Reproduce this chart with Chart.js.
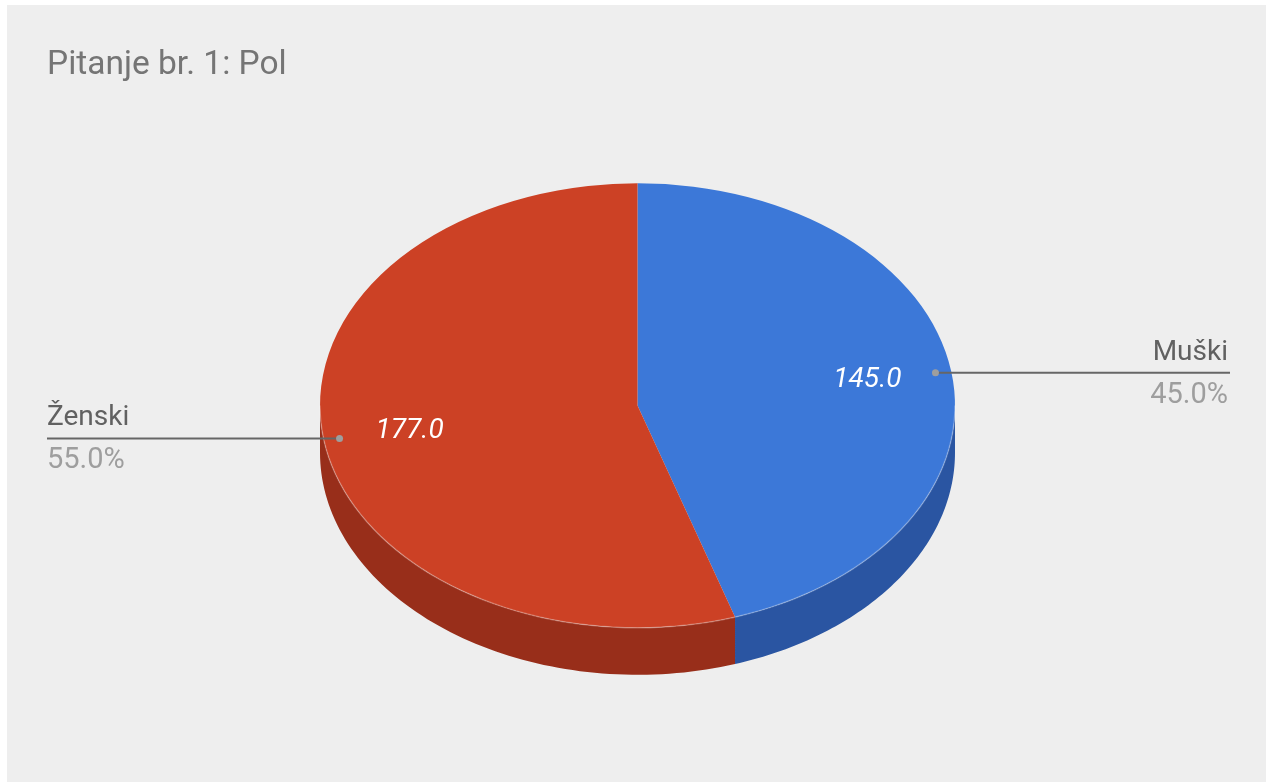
<!DOCTYPE html>
<html>
<head>
<meta charset="utf-8">
<title>Pitanje br. 1: Pol</title>
<script src="https://cdn.jsdelivr.net/npm/chart.js@4/dist/chart.umd.min.js"></script>
<style>
  html, body { margin: 0; background: #fff; }
  #panel { position: absolute; left: 7px; top: 5px; width: 1259px; height: 777px; background: #eeeeee; }
</style>
</head>
<body>
<div id="panel"><canvas id="chart"></canvas></div>
<script>
const categories = ["Muški", "Ženski"];
const counts = [145, 177];
const topColors = ["#3c78d8", "#cc4125"];
const sideColors = ["#2a55a2", "#982e1a"];

// vertical squash of the pie and thickness of its rim
const TILT = 0.7;
const DEPTH = 47;

function rimPath(ctx, cx, cy, r, a1, a2, drop) {
    const steps = 80;
    for (let s = 0; s <= steps; s++) {
        const a = a1 + (a2 - a1) * s / steps;
        ctx.lineTo(cx + r * Math.cos(a), cy + drop + r * TILT * Math.sin(a));
    }
}

const pie3d = {
    id: "pie3d",
    beforeDatasetsDraw(chart) {
        const ctx = chart.ctx;
        const arcs = chart.getDatasetMeta(0).data;
        const cx = arcs[0].x, cy = arcs[0].y, r = arcs[0].outerRadius;

        // side walls, only the front half of the rim is visible
        arcs.forEach((arc, i) => {
            const a1 = Math.max(arc.startAngle, 0);
            const a2 = Math.min(arc.endAngle, Math.PI);
            if (a2 <= a1) return;
            ctx.beginPath();
            rimPath(ctx, cx, cy, r, a1, a2, 0);
            const steps = 80;
            for (let s = steps; s >= 0; s--) {
                const a = a1 + (a2 - a1) * s / steps;
                ctx.lineTo(cx + r * Math.cos(a), cy + DEPTH + r * TILT * Math.sin(a));
            }
            ctx.closePath();
            ctx.fillStyle = sideColors[i];
            ctx.fill();
        });

        // squash the top face into an ellipse
        ctx.save();
        ctx.translate(cx, cy);
        ctx.scale(1, TILT);
        ctx.translate(-cx, -cy);
    },
    afterDatasetsDraw(chart) {
        const ctx = chart.ctx;
        ctx.restore();
        const arc = chart.getDatasetMeta(0).data[0];
        // faint highlight where the top meets the rim
        ctx.save();
        ctx.beginPath();
        rimPath(ctx, arc.x, arc.y, arc.outerRadius, 0, Math.PI, 0);
        ctx.strokeStyle = "rgba(255,255,255,0.25)";
        ctx.lineWidth = 1.5;
        ctx.stroke();
        ctx.restore();
    }
};

const sliceLabels = {
    id: "sliceLabels",
    afterDraw(chart) {
        const ctx = chart.ctx;
        const area = chart.chartArea;
        const arcs = chart.getDatasetMeta(0).data;
        const total = counts.reduce((a, b) => a + b, 0);
        ctx.save();
        arcs.forEach((arc, i) => {
            const mid = (arc.startAngle + arc.endAngle) / 2;
            const r = arc.outerRadius;
            const cos = Math.cos(mid), sin = Math.sin(mid);

            // value inside the slice
            ctx.font = "italic 28px Roboto";
            ctx.fillStyle = "#ffffff";
            ctx.textAlign = "center";
            ctx.textBaseline = "middle";
            ctx.fillText(counts[i].toFixed(1), arc.x + r * 0.73 * cos + 1, arc.y + r * TILT * 0.73 * sin);

            // leader line with name and share
            const dx = arc.x + r * 0.95 * cos;
            const dy = arc.y + r * TILT * 0.95 * sin;
            const right = cos > 0;
            const endX = right ? area.right + 2 : area.left;
            ctx.beginPath();
            ctx.moveTo(dx, dy);
            ctx.lineTo(endX, dy);
            ctx.strokeStyle = "#666666";
            ctx.lineWidth = 2;
            ctx.stroke();

            ctx.beginPath();
            ctx.arc(dx, dy, 3.5, 0, Math.PI * 2);
            ctx.fillStyle = "#9e9e9e";
            ctx.fill();

            const textX = right ? area.right : area.left;
            ctx.textAlign = right ? "right" : "left";
            ctx.textBaseline = "alphabetic";
            ctx.font = "28px Roboto";
            ctx.fillStyle = "#616161";
            ctx.fillText(categories[i], textX, dy - 13);
            ctx.font = "29px Roboto";
            ctx.fillStyle = "#9e9e9e";
            ctx.fillText((counts[i] / total * 100).toFixed(1) + "%", textX, dy + 30);
        });
        ctx.restore();
    }
};

Chart.defaults.font.family = "Roboto";

new Chart(document.getElementById("chart"), {
    type: "pie",
    data: {
        labels: categories,
        datasets: [{
            data: counts,
            backgroundColor: topColors,
            borderWidth: 0,
            radius: 317.5
        }]
    },
    options: {
        responsive: true,
        maintainAspectRatio: false,
        animation: false,
        events: [],
        layout: {
            padding: { left: 40, right: 38, top: 0, bottom: 56.6 }
        },
        plugins: {
            legend: { display: false },
            tooltip: { enabled: false },
            title: {
                display: true,
                text: "Pitanje br. 1: Pol",
                align: "start",
                color: "#757575",
                font: { size: 33.5, weight: "normal" },
                padding: { top: 40.5, bottom: 0 }
            }
        }
    },
    plugins: [pie3d, sliceLabels]
});
</script>
</body>
</html>
